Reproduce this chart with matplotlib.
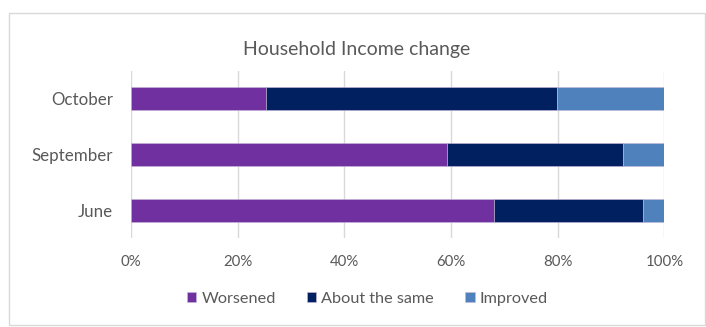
import matplotlib.pyplot as plt
from matplotlib.patches import Rectangle
import numpy as np

# Values (share of respondents, %)
months = ['June', 'September', 'October']
worsened = [68.0, 59.3, 25.3]
about_same = [28.0, 32.9, 54.6]
improved = [4.0, 7.8, 20.1]

series = [
    ('Worsened', worsened, '#7030A0'),
    ('About the same', about_same, '#002060'),
    ('Improved', improved, '#4F81BD'),
]

plt.rcParams['font.family'] = ['Lato', 'DejaVu Sans']
text_color = '#595959'

fig = plt.figure(figsize=(7.06, 3.27), dpi=100)
ax = fig.add_axes([0.1856, 0.2722, 0.7556, 0.5122])

# outer chart border
fig.patches.append(Rectangle((9 / 706, 2 / 327), 696 / 706, 312 / 327,
                             transform=fig.transFigure, fill=False,
                             edgecolor='#D9D9D9', linewidth=1))

y = np.arange(len(months))
left = np.zeros(len(months))
for name, vals, color in series:
    ax.barh(y, vals, left=left, height=0.41, color=color, label=name,
            edgecolor='#C9B8DA', linewidth=0.4, zorder=3)
    left += np.array(vals)

ax.set_xlim(0, 100)
ax.set_ylim(-0.5, 2.5)
ax.set_xticks(np.arange(0, 101, 20))
ax.set_xticklabels([f'{v}%' for v in range(0, 101, 20)])
ax.set_yticks(y)
ax.set_yticklabels(months)
ax.tick_params(length=0, colors=text_color)
ax.tick_params(axis='x', pad=12, labelsize=10.8)
ax.tick_params(axis='y', pad=13, labelsize=12.2)
ax.grid(axis='x', color='#D9D9D9', linewidth=1, zorder=0)
for s in ax.spines.values():
    s.set_visible(False)

fig.text(0.505, 1 - 49 / 327, 'Household Income change', ha='center', va='center',
         fontsize=14, color=text_color)

fig.legend(loc='center', bbox_to_anchor=(0.52, 1 - 299 / 327), ncol=3, frameon=False,
           fontsize=11.7, labelcolor=text_color, handlelength=0.6, handleheight=0.6,
           handletextpad=0.3, columnspacing=1.9)

fig.savefig('out.png', dpi=100)
